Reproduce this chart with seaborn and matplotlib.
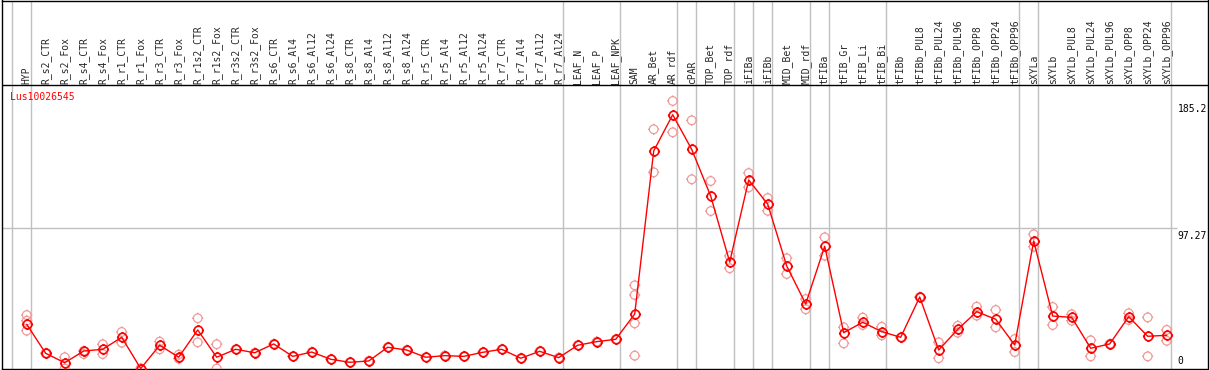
import numpy as np
import pandas as pd
import matplotlib
matplotlib.use("Agg")
import matplotlib.pyplot as plt
from matplotlib.path import Path
import seaborn as sns

gene = "Lus10026545"

categories = [
    "HYP", "R_s2_CTR", "R_s2_Fox", "R_s4_CTR", "R_s4_Fox", "R_r1_CTR", "R_r1_Fox",
    "R_r3_CTR", "R_r3_Fox", "R_r1s2_CTR", "R_r1s2_Fox", "R_r3s2_CTR", "R_r3s2_Fox",
    "R_s6_CTR", "R_s6_Al4", "R_s6_Al12", "R_s6_Al24", "R_s8_CTR", "R_s8_Al4",
    "R_s8_Al12", "R_s8_Al24", "R_r5_CTR", "R_r5_Al4", "R_r5_Al12", "R_r5_Al24",
    "R_r7_CTR", "R_r7_Al4", "R_r7_Al12", "R_r7_Al24", "LEAF_N", "LEAF_P", "LEAF_NPK",
    "SAM", "AR_Bet", "AR_rdf", "cPAR", "TOP_Bet", "TOP_rdf", "iFIBa", "iFIBb",
    "MID_Bet", "MID_rdf", "tFIBa", "tFIB_Gr", "tFIB_Li", "tFIB_Bi", "tFIBb",
    "tFIBb_PUL8", "tFIBb_PUL24", "tFIBb_PUL96", "tFIBb_OPP8", "tFIBb_OPP24",
    "tFIBb_OPP96", "sXYLa", "sXYLb", "sXYLb_PUL8", "sXYLb_PUL24", "sXYLb_PUL96",
    "sXYLb_OPP8", "sXYLb_OPP24", "sXYLb_OPP96",
]

means = [
    30.6, 10.5, 4.0, 12.1, 13.3, 21.6, 0.0, 16.1, 7.8, 26.7, 7.8, 13.3, 10.9,
    17.0, 8.4, 11.4, 6.4, 4.3, 5.2, 14.7, 12.8, 7.8, 8.9, 8.4, 11.2,
    13.3, 7.1, 11.9, 7.5, 16.1, 18.6, 20.2,
    37.7, 150.6, 175.7, 151.7, 119.4, 73.7, 130.5, 113.8, 71.0, 44.7,
    84.6, 24.8, 32.0, 25.5, 21.6, 49.5, 12.8, 27.1, 39.3, 34.1, 16.3,
    88.3, 36.3, 35.4, 14.0, 17.0, 35.9, 22.3, 23.0,
]

replicates = [
    [37.0, 33.1, 26.2], [10.5, 10.5], [7.8, 0.0], [10.0, 12.1], [16.8, 10.0],
    [25.3, 17.9], [0.0, 0.0], [18.6, 13.3], [9.6, 6.8], [34.8, 18.1], [16.8, 0.0],
    [13.3], [10.9], [17.0], [8.4], [11.4], [6.4], [4.3], [5.2], [14.7], [12.8],
    [7.8], [8.9], [8.4], [11.2], [13.3], [7.1], [11.9], [7.5], [16.1], [18.6], [20.2],
    [57.6, 50.9, 31.3, 8.9], [165.6, 135.8], [185.2, 163.5], [171.8, 131.0],
    [129.8, 109.0], [77.9, 69.4], [135.3, 125.4], [118.0, 109.2], [76.3, 65.4],
    [48.1, 41.0], [90.8, 78.1], [28.5, 17.4], [35.2, 30.1], [28.9, 23.0], [21.6],
    [49.5], [18.1, 7.1], [29.6, 24.8], [42.8, 36.6], [40.5, 28.5], [20.4, 11.4],
    [92.9, 84.3], [42.6, 30.1], [37.5, 33.1], [19.5, 8.4], [17.0], [38.2, 33.6],
    [35.4, 8.4], [26.7, 19.2],
]

# index of the last category in each group (gray separators)
group_ends = [-1, 0, 28, 31, 34, 35, 37, 38, 39, 41, 42, 45, 52, 53, 60]

y_labels = [185.2, 97.27, 0]

n = len(categories)
df = pd.DataFrame({"pos": np.arange(n), "value": means})
rep_df = pd.DataFrame(
    [(i, v) for i, reps in enumerate(replicates) for v in reps],
    columns=["pos", "value"],
)

# circle (as polygon) with short ticks, like the original markers
ang = np.linspace(0, 2 * np.pi, 41)
verts = list(zip(np.cos(ang), np.sin(ang)))
codes = [Path.MOVETO] + [Path.LINETO] * 40
for (a, b) in [((0, 1), (0, 1.3)), ((0, -1), (0, -1.3)),
               ((1, 0), (1.3, 0)), ((-1, 0), (-1.3, 0))]:
    verts += [a, b]
    codes += [Path.MOVETO, Path.LINETO]
tick_circle = Path(verts, codes)

sns.set_style("white")
plt.rcParams["font.family"] = ["DejaVu Sans Mono"]

W, H = 1209, 370
fig = plt.figure(figsize=(W / 100, H / 100), dpi=100)
ax = fig.add_axes([2 / W, 1.5 / H, 1206 / W, 368 / H])

px_per_unit = 1.4445
ax.set_ylim(0, 368 / px_per_unit)
ax.set_xlim((2 - 26.7) / 19, (1208 - 26.7) / 19)
header_y = (368.5 - 85) / px_per_unit

for g in group_ends:
    ax.axvline(g + 0.2, color="#c0c0c0", lw=1, zorder=1)
ax.hlines(97.27, ax.get_xlim()[0], (1177 - 26.7) / 19, color="#c0c0c0", lw=1, zorder=1)
ax.axhline(header_y, color="black", lw=1, zorder=2)

sns.scatterplot(data=rep_df, x="pos", y="value", ax=ax, marker=tick_circle, s=65,
                facecolors="none", edgecolor="#f09a9a", linewidth=0.9, zorder=3,
                legend=False)
sns.lineplot(data=df, x="pos", y="value", ax=ax, color="red", lw=1,
             marker=tick_circle, markersize=8, mfc="none", mec="red", mew=1.2,
             zorder=4)

ax.set_xticks(np.arange(n))
ax.set_xticklabels(categories, rotation=90, fontsize=7)
ax.xaxis.tick_top()
ax.tick_params(axis="x", length=0, pad=-60)
ax.set_yticks([])
ax.set_xlabel("")
ax.set_ylabel("")
for sp in ax.spines.values():
    sp.set_color("black")
    sp.set_linewidth(1)

for v in y_labels:
    ax.annotate(f"{v:g}", xy=(n - 1, v), xytext=(11, 2 if v == 0 else -3),
                textcoords="offset pixels", ha="left",
                va="bottom" if v == 0 else "top", fontsize=7, color="black",
                annotation_clip=False)

fig.text(10 / W, 1 - 97 / H, gene, color="red", fontsize=7, ha="left", va="center")

fig.savefig("out.png", dpi=100)
